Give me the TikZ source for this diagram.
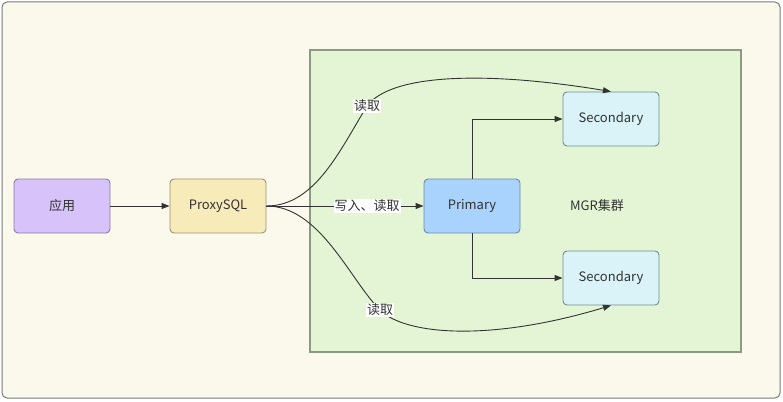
\documentclass[tikz,border=0pt]{standalone}
\usepackage{fontspec}
\setmainfont{Noto Sans CJK SC}
\usetikzlibrary{arrows.meta}
\definecolor{bgfill}{HTML}{FBF9EB}
\definecolor{bgline}{HTML}{7A7A7A}
\definecolor{clfill}{HTML}{E3F5D4}
\definecolor{clline}{HTML}{8C9A82}
\definecolor{appfill}{HTML}{D8C2FA}
\definecolor{appline}{HTML}{8A7BA6}
\definecolor{pxfill}{HTML}{F7EBBA}
\definecolor{pxline}{HTML}{9A9373}
\definecolor{prfill}{HTML}{A9D3FC}
\definecolor{prline}{HTML}{6C8AA6}
\definecolor{scfill}{HTML}{D9F3F8}
\definecolor{scline}{HTML}{6F8E92}
\definecolor{txt}{HTML}{333333}
\definecolor{lnk}{HTML}{333333}
\tikzset{
  box/.style={rectangle, rounded corners=4pt, line width=0.9pt, minimum width=96pt, minimum height=54pt, inner sep=0pt, text=txt, font=\fontsize{13}{15}\selectfont},
  arr/.style={draw=lnk, line width=0.9pt, -{Triangle[length=8pt,width=6pt]}},
  lbl/.style={fill=white, inner sep=1pt, text=txt, font=\fontsize{13}{15}\selectfont},
}
\begin{document}
\begin{tikzpicture}[x=1pt,y=-1pt]
\useasboundingbox (0,0) rectangle (783,401);
\draw[fill=bgfill, draw=bgline, line width=1pt, rounded corners=5pt] (2,2) rectangle (780,398);
\draw[fill=clfill, draw=clline, line width=1.2pt] (310,50) rectangle (741,352);
\node[box, fill=appfill, draw=appline] (app) at (62,206) {应用};
\node[box, fill=pxfill, draw=pxline] (px) at (218,206) {ProxySQL};
\node[box, fill=prfill, draw=prline] (pr) at (472,206) {Primary};
\node[box, fill=scfill, draw=scline] (s1) at (611,119) {Secondary};
\node[box, fill=scfill, draw=scline] (s2) at (611,278) {Secondary};
\node[text=txt, font=\fontsize{13}{15}\selectfont] (mgr) at (597,206) {MGR集群};
\coordinate (j1) at (367,106);
\coordinate (j2) at (380,310);
\draw[arr] (app) -- (px);
\draw[arr] (px) -- node[lbl, pos=0.64] {写入、读取} (pr);
\draw[arr] (px.east) .. controls (315,206) and (340,150) .. (j1) .. controls (390,75) and (480,70) .. (s1.north);
\draw[arr] (px.east) .. controls (320,206) and (350,280) .. (j2) .. controls (405,335) and (490,342) .. (s2.south);
\node[lbl] at (j1) {读取};
\node[lbl] at (j2) {读取};
\draw[arr] (pr.north) |- (s1.west);
\draw[arr] (pr.south) |- (s2.west);
\end{tikzpicture}
\end{document}
